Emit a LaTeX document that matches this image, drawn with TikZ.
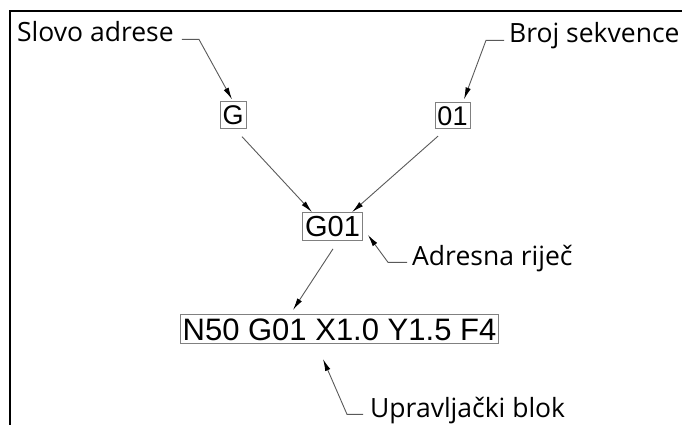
\documentclass[tikz,border=0pt]{standalone}
\usepackage{fontspec}
\setmainfont{Open Sans}
\newfontfamily\arialfont{Liberation Sans}
\usetikzlibrary{arrows.meta}
\begin{document}
\begin{tikzpicture}[x=1pt, y=-1pt,
	oznaka/.style={inner sep=0pt, anchor=base west, font=\fontsize{26.5}{30}\selectfont},
	kutija/.style={draw=black!50, line width=0.9pt, inner xsep=2.5pt, inner ysep=3.5pt, text depth=0pt},
	strelica/.style={draw=black!65, line width=0.9pt, -{Latex[length=12pt, width=5.5pt, black]}},
	]
	\useasboundingbox (0,0) rectangle (682,425);
	\draw[line width=2pt] (10,425) -- (10,11) -- (682,11);

	\node[kutija, text height=19.4pt, font=\arialfont\fontsize{27}{30}\selectfont] (g) at (233,115) {G};
	\node[kutija, text height=19.4pt, font=\arialfont\fontsize{27}{30}\selectfont] (n_01) at (452.5,115.5) {01};
	\node[kutija, text height=20.8pt, font=\arialfont\fontsize{29}{32}\selectfont] (g01) at (332.5,226.5) {G01};
	\node[kutija, text height=22.2pt, font=\arialfont\fontsize{31}{34}\selectfont] (blok) at (339.5,329) {N50 G01 X1.0 Y1.5 F4};

	\node[oznaka] (slovo) at (17,42) {Slovo adrese};
	\node[oznaka] (broj) at (509,43) {Broj sekvence};
	\node[oznaka] (adresna) at (412,265) {Adresna riječ};
	\node[oznaka] (upravljacki) at (370,417) {Upravljački blok};

	\draw[strelica] ([xshift=8pt]slovo.mid east) -- ++(17,0) -- ([shift={(-1pt,2pt)}]g.north);
	\draw[strelica] ([xshift=-5pt]broj.mid west) -- ++(-18,0) -- ([shift={(11.5pt,2.5pt)}]n_01.north);
	\draw[strelica] ([shift={(9pt,-8pt)}]g.south) -- ([xshift=-20.5pt]g01.north);
	\draw[strelica] ([shift={(-14.5pt,-7pt)}]n_01.south) -- ([xshift=19.5pt]g01.north);
	\draw[strelica] ([shift={(0.5pt,-8pt)}]g01.south) -- ([shift={(-46.5pt,4pt)}]blok.north);
	\draw[strelica] ([xshift=-5pt]adresna.mid west) -- ++(-19,0) -- ([shift={(5pt,6pt)}]g01.south east);
	\draw[strelica] ([xshift=-7pt]upravljacki.mid west) -- ++(-16,0) -- ([shift={(-16.5pt,-15pt)}]blok.south);
\end{tikzpicture}
\end{document}
